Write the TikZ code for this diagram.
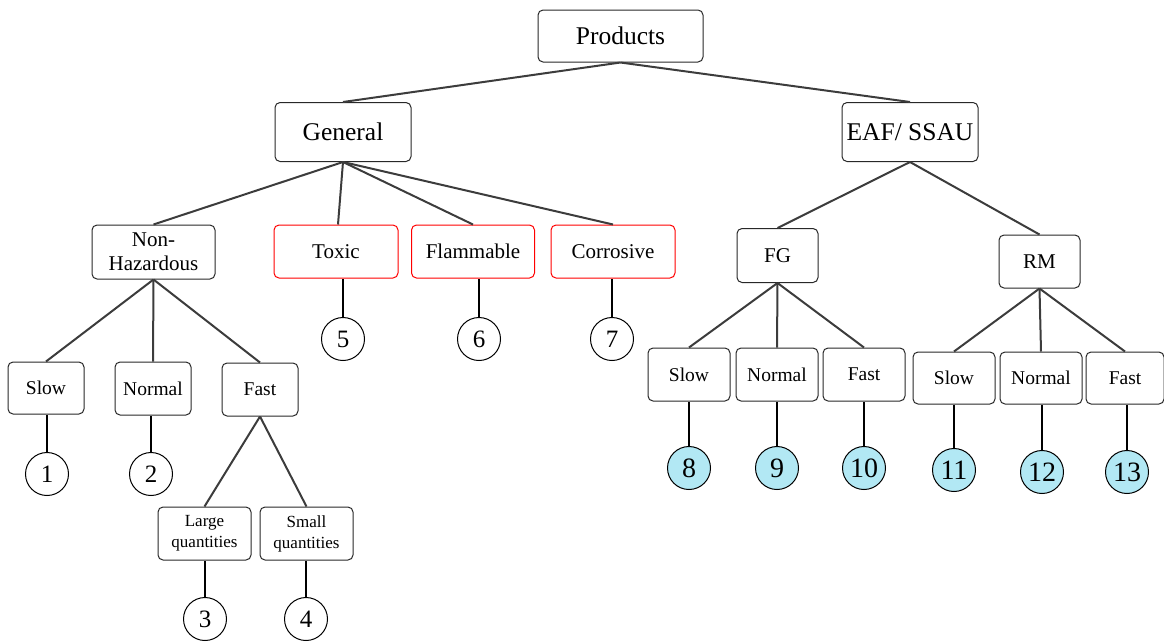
\documentclass[tikz,border=0pt]{standalone}
\usepackage{fontspec}
\setmainfont{Liberation Serif}
\definecolor{edgegrey}{RGB}{60,60,60}
\definecolor{boxgrey}{RGB}{40,40,40}
\definecolor{cyanfill}{RGB}{178,232,244}
\begin{document}
\begin{tikzpicture}[x=1pt,y=-1pt,
  box/.style={draw=boxgrey, line width=1pt, rounded corners=5pt, fill=white, inner sep=0pt, align=center},
  redbox/.style={box, draw=red},
  big/.style={font=\fontsize{25.5}{28}\selectfont},
  mid/.style={font=\fontsize{21}{24}\selectfont},
  sml/.style={font=\fontsize{19.5}{22}\selectfont},
  tiny/.style={font=\fontsize{17}{21}\selectfont},
  num/.style={circle, draw=black, line width=1pt, fill=white, minimum size=43pt, inner sep=0pt, font=\fontsize{25}{27}\selectfont},
  cnum/.style={num, fill=cyanfill, font=\fontsize{28}{30}\selectfont},
  link/.style={draw=edgegrey, line width=2pt},
  stem/.style={draw=black, line width=2.5pt}]
\useasboundingbox (0,0) rectangle (1164,641);
% top levels
\node[box,big,minimum width=165pt,minimum height=52pt] (prod) at (620.5,36) {Products};
\node[box,big,minimum width=136pt,minimum height=59pt] (gen) at (343,132) {General};
\node[box,big,minimum width=136pt,minimum height=59pt] (eaf) at (910,132) {EAF/ SSAU};
% general children
\node[box,mid,minimum width=123pt,minimum height=54pt] (nonhaz) at (153.5,252) {Non-\\Hazardous};
\node[redbox,mid,minimum width=124pt,minimum height=53pt] (toxic) at (336,251.5) {Toxic};
\node[redbox,mid,minimum width=123pt,minimum height=53pt] (flam) at (473,251.5) {Flammable};
\node[redbox,mid,minimum width=124pt,minimum height=53pt] (corr) at (613,251.5) {Corrosive};
% eaf children
\node[box,mid,minimum width=81pt,minimum height=54pt] (fg) at (777.5,255.5) {FG};
\node[box,mid,minimum width=81pt,minimum height=53pt] (rm) at (1039.5,261.5) {RM};
% non-hazardous children
\node[box,sml,minimum width=76pt,minimum height=52pt] (ls) at (46,388) {Slow};
\node[box,sml,minimum width=76pt,minimum height=53pt] (ln) at (153,388.5) {Normal};
\node[box,sml,minimum width=76pt,minimum height=53pt] (lf) at (260,389.5) {Fast};
\node[box,tiny,minimum width=93pt,minimum height=53pt] (large) at (204.5,533.5) {Large\\quantities};
\node[box,tiny,minimum width=93pt,minimum height=53pt] (small) at (306.5,533.5) {Small\\quantities};
% fg children
\node[box,sml,minimum width=82pt,minimum height=53pt] (fs) at (689,374.5) {Slow};
\node[box,sml,minimum width=82pt,minimum height=53pt] (fn) at (777,374.5) {Normal};
\node[box,sml,minimum width=82pt,minimum height=53pt] (ff) at (864,374.5) {Fast};
% rm children
\node[box,sml,minimum width=82pt,minimum height=52pt] (rs) at (954,378) {Slow};
\node[box,sml,minimum width=82pt,minimum height=52pt] (rn) at (1041,378) {Normal};
\node[box,sml,minimum width=78pt,minimum height=52pt] (rf) at (1125,378) {Fast};
% number circles
\node[num] (c1) at (47,474) {1};
\node[num] (c2) at (151,474) {2};
\node[num] (c3) at (205,619) {3};
\node[num] (c4) at (306,619) {4};
\node[num] (c5) at (343,339) {5};
\node[num] (c6) at (479,339) {6};
\node[num] (c7) at (612,339) {7};
\node[cnum] (c8) at (689,468) {8};
\node[cnum] (c9) at (777,468) {9};
\node[cnum] (c10) at (864,468) {10};
\node[cnum] (c11) at (954,470) {11};
\node[cnum] (c12) at (1042,472) {12};
\node[cnum] (c13) at (1127,472) {13};
% tree links
\draw[link] (prod.south) -- (gen.north);
\draw[link] (prod.south) -- (eaf.north);
\draw[link] (gen.south) -- (nonhaz.north);
\draw[link] (gen.south) -- ([xshift=2pt]toxic.north);
\draw[link] (gen.south) -- (flam.north);
\draw[link] (gen.south) -- (corr.north);
\draw[link] (eaf.south) -- (fg.north);
\draw[link] (eaf.south) -- (rm.north);
\draw[link] (nonhaz.south) -- (ls.north);
\draw[link] (nonhaz.south) -- (ln.north);
\draw[link] (nonhaz.south) -- (lf.north);
\draw[link] (lf.south) -- (large.north);
\draw[link] (lf.south) -- (small.north);
\draw[link] (fg.south) -- (fs.north);
\draw[link] (fg.south) -- (fn.north);
\draw[link] (fg.south) -- (ff.north);
\draw[link] (rm.south) -- (rs.north);
\draw[link] (rm.south) -- (rn.north);
\draw[link] (rm.south) -- (rf.north);
% stems to circles
\draw[stem] (c1.north) -- (c1.north |- ls.south);
\draw[stem] (c2.north) -- (c2.north |- ln.south);
\draw[stem] (c3.north) -- (c3.north |- large.south);
\draw[stem] (c4.north) -- (c4.north |- small.south);
\draw[stem] (c5.north) -- (c5.north |- toxic.south);
\draw[stem] (c6.north) -- (c6.north |- flam.south);
\draw[stem] (c7.north) -- (c7.north |- corr.south);
\draw[stem] (c8.north) -- (c8.north |- fs.south);
\draw[stem] (c9.north) -- (c9.north |- fn.south);
\draw[stem] (c10.north) -- (c10.north |- ff.south);
\draw[stem] (c11.north) -- (c11.north |- rs.south);
\draw[stem] (c12.north) -- (c12.north |- rn.south);
\draw[stem] (c13.north) -- (c13.north |- rf.south);
\end{tikzpicture}
\end{document}
